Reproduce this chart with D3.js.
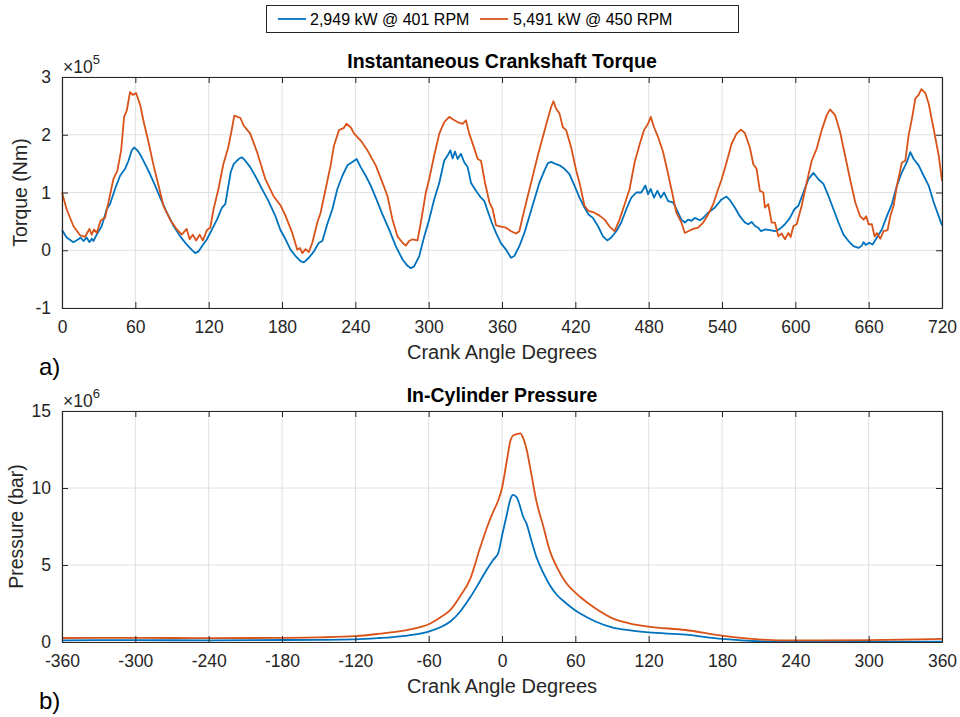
<!DOCTYPE html>
<html><head><meta charset="utf-8">
<script src="https://cdn.jsdelivr.net/npm/d3@7"></script>
<style>
html,body{margin:0;padding:0;background:#fff;}
svg{display:block;font-family:"Liberation Sans",Arial,Helvetica,sans-serif;}
</style></head>
<body><svg id="c" width="960" height="717"></svg>
<script>
// ---------- DATA ----------
const seriesNames = ["2,949 kW @ 401 RPM", "5,491 kW @ 450 RPM"];
const seriesColors = ["#0072BD", "#D95319"];

// Torque (x 10^5 Nm) vs crank angle (deg), blue series
const torqueBlueDeg = [0,3.8,9.3,13.4,15.3,17.5,20.2,22.4,24.3,25.7,28.4,32.5,36.6,39.3,43.4,47.5,51.6,54.4,57.1,59,61.7,64.5,68,72,76.2,80.3,85.8,91.3,96.7,102,106,109,111.7,114.5,118.6,122.7,126.8,130.9,133.6,138,140.4,144.5,147.2,150,154,159.6,163.7,169,174.6,178.7,182.9,187,191.1,195.2,197.9,202,206.1,210.2,213,217,221.2,225.3,229.4,233.5,237.6,241.1,244.4,248.5,252.6,256.7,262.2,267.6,273.1,278.6,282.7,285.4,288.1,292.3,296.4,300.4,304.5,308.7,312.7,315.5,317.7,319.6,321.5,323.7,326.4,329.2,331.9,334.6,338.7,342.8,345.6,348.3,351.6,355.1,359.2,363.3,367.4,370.1,374.2,378.3,382.4,386.5,390.6,394.7,397.5,400.2,404.3,407,411.1,415.2,419.3,423.4,427.5,430.8,434.4,438.5,442.6,446.1,449.4,453.5,457.6,461.7,465.8,469.9,474,477.3,479.5,481.7,484.4,487.1,489.9,492.6,495.9,500,502.7,506.8,509.6,512.3,515,517.8,521.9,524.6,528.7,534.2,539.6,543.7,546.4,550.5,554.6,558.7,561.5,564.2,567,569.7,571.9,575.1,579.2,583.3,587.4,591.5,595.6,599.2,602.5,606.6,610.7,614.8,618.9,623,627.1,631.2,635.3,639.4,643.5,647.6,651.7,654.4,655.8,657.7,660.4,663.2,666.7,670.8,674.9,679,683.1,687.2,691.3,694.1,696.8,700.9,705,709.1,713.2,717.3,720];
const torqueBlueVal = [0.35,0.22,0.14,0.19,0.22,0.16,0.22,0.14,0.20,0.16,0.27,0.42,0.71,0.80,1.06,1.29,1.41,1.55,1.73,1.78,1.73,1.64,1.49,1.32,1.12,0.91,0.65,0.42,0.24,0.10,0.01,-0.05,-0.02,0.07,0.19,0.36,0.53,0.74,0.80,1.35,1.49,1.58,1.61,1.55,1.44,1.23,1.06,0.85,0.59,0.35,0.19,0.01,-0.10,-0.19,-0.21,-0.13,-0.02,0.13,0.16,0.45,0.71,1.06,1.29,1.47,1.53,1.58,1.44,1.29,1.12,0.91,0.62,0.36,0.07,-0.16,-0.27,-0.31,-0.28,-0.10,0.24,0.53,0.88,1.17,1.55,1.64,1.73,1.59,1.71,1.58,1.67,1.52,1.44,1.17,1.03,0.91,0.85,0.68,0.48,0.30,0.12,0.01,-0.13,-0.10,0.07,0.30,0.59,0.88,1.17,1.38,1.51,1.53,1.49,1.47,1.41,1.32,1.12,0.91,0.74,0.62,0.56,0.42,0.24,0.17,0.22,0.33,0.48,0.71,0.91,1.00,1.00,1.12,0.97,1.06,0.91,1.03,0.91,1.00,0.85,0.83,0.71,0.53,0.48,0.53,0.51,0.56,0.52,0.56,0.65,0.74,0.88,0.93,0.87,0.74,0.59,0.48,0.45,0.49,0.42,0.39,0.33,0.36,0.35,0.33,0.37,0.45,0.56,0.71,0.77,1.00,1.23,1.34,1.23,1.15,0.94,0.71,0.48,0.27,0.16,0.07,0.04,0.08,0.14,0.09,0.13,0.10,0.22,0.36,0.59,0.80,1.12,1.35,1.53,1.70,1.58,1.47,1.29,1.12,0.83,0.59,0.43];

// Torque (x 10^5 Nm), orange series
const torqueOrangeDeg = [0,3.8,9.3,14.8,18.8,22.4,24.3,26.2,28.4,31.7,35.2,38,42,45.3,48.4,50.8,53,55.7,57.9,60.7,64,67.2,70.8,74.9,79,83,88.5,94,98,102,104.4,107,109.8,112.6,115.3,118.6,121.3,124,128,132,136,139,141,146,148.6,154,159.6,166.4,173,178.7,183,188.4,192.5,194.7,196.6,199.3,202,204.8,208.9,211.6,215.7,219.8,222.5,226.6,230.7,232.7,236.2,239,244.4,249.9,256.7,262.2,266.3,270.4,274.5,278.6,281.3,284,286.8,290.9,293.6,297.7,300.4,304.5,308.7,312.7,316.9,319.6,323.7,327.8,330.5,333.2,337.4,340.1,342.8,346.1,349.7,352.4,355.1,359.2,363.3,367.4,371.5,374.2,377,381.1,385.2,389.3,393.4,397.5,400.2,402.1,404.3,407,409.8,412.5,416.6,420.7,423.4,427.5,430.8,435.7,439.8,444,448,452.1,456.2,460.4,464.4,468.5,472.7,476.2,479.5,481.7,484.4,487.7,491.8,495.9,499.2,502.7,506.8,509.6,512.3,516.4,520.5,524.6,528.7,532.8,536.9,539.6,543.7,547.8,551.9,555.5,558.7,562.8,565.6,568.3,571,573.8,575.1,577.9,580.6,583.3,586.1,588.8,591.5,594.3,596.2,598.4,601.1,605.2,609.3,613.4,617.5,621.6,625.7,628.4,632.5,636.6,640.7,644.8,649,653,655.8,658,659.9,662.6,664.8,666.7,669.5,672.2,675.5,677.7,680.4,683.1,687.2,690,692.7,695.4,698.2,700.9,703.1,706.4,709.1,713.2,717.3,720];
const torqueOrangeVal = [1.00,0.71,0.42,0.26,0.23,0.37,0.27,0.36,0.30,0.52,0.56,0.83,1.23,1.38,1.73,2.31,2.42,2.74,2.69,2.72,2.51,2.19,1.87,1.47,1.12,0.77,0.53,0.36,0.27,0.37,0.19,0.27,0.17,0.27,0.17,0.35,0.39,0.71,1.06,1.49,1.78,2.10,2.33,2.29,2.16,2.02,1.70,1.23,0.94,0.78,0.59,0.30,0.01,0.04,-0.05,0.02,-0.03,0.13,0.48,0.65,1.06,1.47,1.81,2.08,2.12,2.19,2.13,2.02,1.90,1.73,1.47,1.17,0.94,0.53,0.24,0.13,0.08,0.16,0.19,0.17,0.48,1.00,1.23,1.64,2.02,2.22,2.31,2.27,2.22,2.19,2.25,2.02,1.76,1.58,1.55,1.17,0.83,0.71,0.43,0.41,0.39,0.33,0.29,0.33,0.59,0.94,1.29,1.64,1.96,2.28,2.48,2.58,2.45,2.37,2.13,2.08,1.78,1.38,1.17,0.77,0.68,0.65,0.60,0.53,0.41,0.33,0.53,0.80,1.06,1.52,1.84,2.08,2.19,2.31,2.13,1.96,1.70,1.32,1.00,0.65,0.48,0.30,0.33,0.37,0.39,0.48,0.62,0.80,1.06,1.22,1.52,1.84,2.02,2.09,2.03,1.78,1.49,1.41,1.03,1.00,0.74,0.80,0.48,0.48,0.24,0.29,0.19,0.30,0.23,0.42,0.45,0.77,1.17,1.55,1.76,2.08,2.34,2.44,2.34,2.05,1.64,1.23,0.83,0.59,0.53,0.59,0.45,0.45,0.24,0.30,0.20,0.33,0.35,0.59,0.77,1.12,1.52,1.55,1.99,2.28,2.63,2.69,2.79,2.72,2.54,2.10,1.64,1.20];

// In-cylinder pressure (x 10^6) vs crank angle (deg)
const pressureDeg = [-360,-300,-240,-180,-150,-120,-100,-83,-72,-60,-50,-42,-34,-26,-18,-12,-7,-3,0,4,7,9,12,15,17,20,24,28,34,39,45,52,60,64,76,90,105,120,150,180,210,240,300,360];
const pressureBlue = [0.11,0.12,0.11,0.13,0.14,0.17,0.26,0.37,0.48,0.68,0.97,1.35,2.0,2.9,3.95,4.75,5.35,5.8,6.9,8.3,9.3,9.55,9.4,8.75,8.2,7.7,6.6,5.55,4.45,3.7,3.05,2.55,2.05,1.85,1.35,0.95,0.75,0.62,0.48,0.2,0.05,0.02,0.02,0.03];
const pressureOrange = [0.26,0.27,0.25,0.27,0.30,0.38,0.54,0.71,0.87,1.15,1.62,2.1,3.0,4.1,6.1,7.5,8.5,9.2,10.0,11.8,13.1,13.4,13.5,13.55,13.3,12.55,10.9,9.2,7.45,5.95,4.85,3.9,3.2,2.92,2.2,1.55,1.2,1.0,0.78,0.42,0.17,0.1,0.12,0.2];

const torqueXTicks = [0,60,120,180,240,300,360,420,480,540,600,660,720];
const torqueYTicks = [-1,0,1,2,3];
const pressureXTicks = [-360,-300,-240,-180,-120,-60,0,60,120,180,240,300,360];
const pressureYTicks = [0,5,10,15];

// ---------- DRAW ----------
const svg = d3.select("#c");
const L = 62, R = 942;
const axisCol = "#262626";
const fmt = d => String(d);

function panel(cfg) {
  const x = d3.scaleLinear().domain(cfg.xDomain).range([L, R]);
  const y = d3.scaleLinear().domain(cfg.yDomain).range([cfg.bottom, cfg.top]);
  const g = svg.append("g");
  // grid
  g.append("g").selectAll("line").data(cfg.xTicks).join("line")
    .attr("x1", d => x(d)).attr("x2", d => x(d)).attr("y1", cfg.top).attr("y2", cfg.bottom)
    .attr("stroke", "#e0e0e0").attr("stroke-width", 1);
  g.append("g").selectAll("line").data(cfg.yTicks).join("line")
    .attr("x1", L).attr("x2", R).attr("y1", d => y(d)).attr("y2", d => y(d))
    .attr("stroke", "#e0e0e0").attr("stroke-width", 1);
  // series
  cfg.series.forEach((s, i) => {
    const pts = s.deg.map((d, k) => [d, s.val[k]]);
    g.append("path").datum(pts)
      .attr("d", d3.line().x(d => x(d[0])).y(d => y(d[1])).curve(cfg.curve))
      .attr("fill", "none").attr("stroke", seriesColors[i]).attr("stroke-width", 1.8)
      .attr("stroke-linejoin", "round");
  });
  // axes (ticks inside, box)
  const tl = 6;
  const xb = d3.axisBottom(x).tickValues(cfg.xTicks).tickFormat(fmt).tickSizeInner(-tl).tickSizeOuter(0).tickPadding(tl + 7);
  const xt = d3.axisTop(x).tickValues(cfg.xTicks).tickSizeInner(-tl).tickSizeOuter(0).tickFormat("");
  const yl = d3.axisLeft(y).tickValues(cfg.yTicks).tickFormat(fmt).tickSizeInner(-tl).tickSizeOuter(0).tickPadding(tl + 5);
  const yr = d3.axisRight(y).tickValues(cfg.yTicks).tickSizeInner(-tl).tickSizeOuter(0).tickFormat("");
  [[xb, `translate(0,${cfg.bottom})`], [xt, `translate(0,${cfg.top})`], [yl, `translate(${L},0)`], [yr, `translate(${R},0)`]]
    .forEach(([ax, tr]) => {
      const a = g.append("g").attr("transform", tr).call(ax);
      a.select(".domain").attr("stroke", axisCol).attr("stroke-width", 1.2);
      a.selectAll(".tick line").attr("stroke", axisCol);
      a.selectAll(".tick text").attr("fill", axisCol).attr("font-size", 17.5)
        .attr("font-family", "Liberation Sans, Arial, sans-serif");
    });
  // title
  svg.append("text").attr("x", (L + R) / 2).attr("y", cfg.top - 9).attr("text-anchor", "middle")
    .attr("font-weight", "bold").attr("font-size", 19.5).attr("fill", "#000").text(cfg.title);
  // exponent
  const ex = svg.append("text").attr("x", L + 1).attr("y", cfg.top - 4).attr("font-size", 17.5).attr("fill", axisCol);
  ex.append("tspan").text("\u00D710");
  ex.append("tspan").attr("dy", -9).attr("font-size", 13).text(cfg.exp);
  // x label
  svg.append("text").attr("x", (L + R) / 2).attr("y", cfg.bottom + 51).attr("text-anchor", "middle")
    .attr("font-size", 20).attr("fill", axisCol).text("Crank Angle Degrees");
  // y label
  svg.append("text").attr("transform", `translate(${cfg.ylabX},${(cfg.top + cfg.bottom) / 2}) rotate(-90)`)
    .attr("text-anchor", "middle").attr("font-size", 19.5).attr("fill", axisCol).text(cfg.ylabel);
  // panel letter
  svg.append("text").attr("x", 39).attr("y", cfg.bottom + 67).attr("font-size", 24).attr("fill", "#000").text(cfg.letter);
}

panel({
  xDomain: [0, 720], yDomain: [-1, 3], top: 77, bottom: 308,
  xTicks: torqueXTicks, yTicks: torqueYTicks, title: "Instantaneous Crankshaft Torque",
  exp: "5", ylabel: "Torque (Nm)", ylabX: 27, letter: "a)", curve: d3.curveLinear,
  series: [{deg: torqueBlueDeg, val: torqueBlueVal}, {deg: torqueOrangeDeg, val: torqueOrangeVal}]
});
panel({
  xDomain: [-360, 360], yDomain: [0, 15], top: 411, bottom: 642,
  xTicks: pressureXTicks, yTicks: pressureYTicks, title: "In-Cylinder Pressure",
  exp: "6", ylabel: "Pressure (bar)", ylabX: 23, letter: "b)", curve: d3.curveMonotoneX,
  series: [{deg: pressureDeg, val: pressureBlue}, {deg: pressureDeg, val: pressureOrange}]
});

// legend
const lg = svg.append("g");
lg.append("rect").attr("x", 266.5).attr("y", 5.5).attr("width", 472).attr("height", 27)
  .attr("fill", "#fff").attr("stroke", axisCol).attr("stroke-width", 1);
const legX = [[278, 310], [480, 513]];
seriesNames.forEach((n, i) => {
  lg.append("line").attr("x1", legX[i][0]).attr("x2", legX[i][0] + 28).attr("y1", 19).attr("y2", 19)
    .attr("stroke", seriesColors[i]).attr("stroke-width", 1.8);
  lg.append("text").attr("x", legX[i][1]).attr("y", 24.5).attr("font-size", 16).attr("fill", "#000").text(n);
});
</script></body></html>
